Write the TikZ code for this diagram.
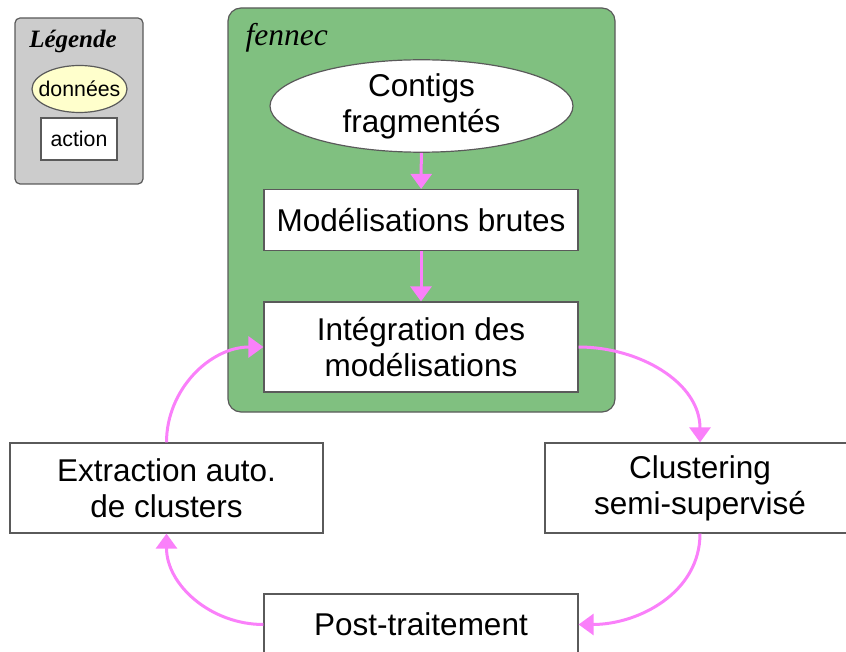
\documentclass[tikz,border=0pt]{standalone}
\usepackage{fontspec}
\setmainfont{Liberation Sans}
\newfontfamily\titlefont{Liberation Serif}
\usetikzlibrary{arrows.meta,shapes.geometric}
\definecolor{fennecgreen}{RGB}{128,192,128}
\definecolor{legendgray}{RGB}{204,204,204}
\definecolor{datayellow}{RGB}{255,255,204}
\definecolor{flowpink}{RGB}{250,128,250}
\definecolor{edgegray}{RGB}{90,90,90}
\tikzset{
	actionbox/.style={draw=edgegray, line width=1.2pt, fill=white, rectangle, inner sep=0pt, align=center, font=\fontsize{31.5}{36}\selectfont},
	databox/.style={draw=edgegray, line width=1.2pt, fill=white, ellipse, inner sep=0pt, align=center, font=\fontsize{31.5}{36}\selectfont},
	flow/.style={draw=flowpink, line width=3pt, -{Triangle[length=15pt, width=21pt]}}
}

\begin{document}
\begin{tikzpicture}[x=1pt, y=-1pt]
			%%%%% START %%%%%
			
			\useasboundingbox (0, 0) rectangle (846, 652);
			
			% legende
			\node[draw=edgegray, line width=1.2pt, fill=legendgray, rounded corners=5pt, minimum width=128pt, minimum height=166pt] (legend) at (79, 101) {};
			\node[font=\titlefont\bfseries\itshape\fontsize{25}{28}\selectfont] (legendtitle) at (73, 41) {Légende};
			\node[databox, fill=datayellow, inner xsep=-7.5pt, minimum width=95pt, minimum height=47pt, font=\fontsize{21.3}{24}\selectfont] (donnees) at (79.5, 89) {données};
			\node[actionbox, minimum width=76pt, minimum height=42pt, font=\fontsize{21.3}{24}\selectfont] (action) at (79, 139) {action};
			
			% fennec
			\node[draw=edgegray, line width=1.2pt, fill=fennecgreen, rounded corners=13pt, minimum width=387pt, minimum height=404pt] (fennec) at (421.5, 210) {};
			\node[font=\titlefont\itshape\fontsize{31.5}{34}\selectfont, anchor=west] (fennectitle) at (242, 38) {fennec};
			
			\node[databox, minimum width=303pt, minimum height=88pt] (contigs) at (421.5, 106) {Contigs\\fragmentés};
			\node[actionbox, minimum width=314pt, minimum height=61pt] (brutes) at (421, 220) {Modélisations brutes};
			\node[actionbox, minimum width=314pt, minimum height=90pt] (integ) at (421, 347) {Intégration des\\modélisations};
			
			% boucle
			\node[actionbox, minimum width=313pt, minimum height=90pt] (extract) at (166.5, 488) {Extraction auto.\\de clusters};
			\node[actionbox, minimum width=310pt, minimum height=90pt] (cluster) at (700, 488) {Clustering\\semi-supervisé};
			\node[actionbox, minimum width=314pt, minimum height=61pt] (post) at (421, 624.5) {Post-traitement};
			
			\draw[flow] (contigs) -- (brutes);
			\draw[flow] (brutes) -- (integ);
			\draw[flow] (integ.east) to[out=0, in=90] (cluster.north);
			\draw[flow] (cluster.south) to[out=-90, in=0] (post.east);
			\draw[flow] (post.west) to[out=180, in=-90] (extract.south);
			\draw[flow] (extract.north) to[out=90, in=180] (integ.west);
			
			%%%%% END %%%%%
		\end{tikzpicture}
\end{document}
